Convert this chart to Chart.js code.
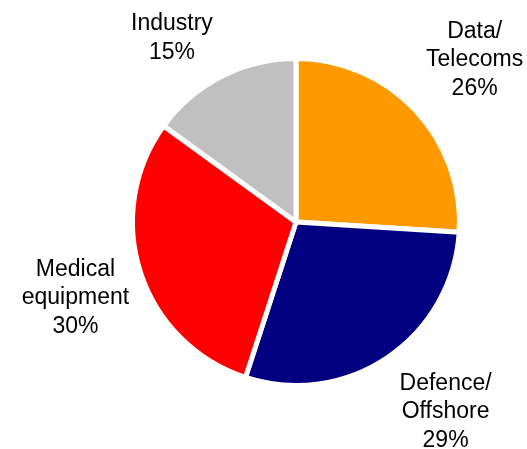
<!DOCTYPE html>
<html>
<head>
<meta charset="utf-8">
<script src="https://cdn.jsdelivr.net/npm/chart.js@4/dist/chart.umd.min.js"></script>
<style>
  html, body { margin: 0; padding: 0; background: #fff; }
  #wrap { width: 527px; height: 449px; position: relative; }
</style>
</head>
<body>
<div id="wrap"><canvas id="pie"></canvas></div>
<script>
const labels = [["Data/", "Telecoms"], ["Defence/", "Offshore"], ["Medical", "equipment"], ["Industry"]];
const shares = [26, 29, 30, 15];
const colors = ["#ff9900", "#000080", "#ff0000", "#c0c0c0"];

const font = "23px 'Liberation Sans', Arial, sans-serif";
const lineH = 28.5;
// per-label nudges: turn in degrees off the slice middle, gap in px from the rim
const labelTurn = [1, -4, -1, -7];
const labelGap = [14, 24, 13, 24];

// labels sit outside the pie, text box pushed clear of the rim
const outsideLabels = {
  id: 'outsideLabels',
  afterDatasetsDraw(chart) {
    const ctx = chart.ctx;
    const meta = chart.getDatasetMeta(0);
    ctx.save();
    ctx.font = font;
    ctx.fillStyle = '#000';
    ctx.textAlign = 'center';
    ctx.textBaseline = 'middle';
    meta.data.forEach((arc, i) => {
      const lines = labels[i].concat([shares[i] + '%']);
      const w = Math.max(...lines.map(t => ctx.measureText(t).width));
      const h = lines.length * lineH;
      const mid = (arc.startAngle + arc.endAngle) / 2 + labelTurn[i] * Math.PI / 180;
      const ux = Math.cos(mid), uy = Math.sin(mid);
      const edge = Math.min(
        Math.abs(ux) > 1e-6 ? (w / 2) / Math.abs(ux) : Infinity,
        Math.abs(uy) > 1e-6 ? (h / 2) / Math.abs(uy) : Infinity
      );
      const d = arc.outerRadius + labelGap[i] + edge;
      const cx = arc.x + ux * d;
      const cy = arc.y + uy * d;
      lines.forEach((t, k) => {
        ctx.fillText(t, cx, cy - h / 2 + lineH * (k + 0.5));
      });
    });
    ctx.restore();
  }
};

new Chart(document.getElementById('pie'), {
  type: 'pie',
  data: {
    labels: labels.map(l => l.join(' ')),
    datasets: [{
      data: shares,
      backgroundColor: colors,
      borderColor: '#ffffff',
      borderWidth: 5
    }]
  },
  options: {
    responsive: true, maintainAspectRatio: false,
    animation: false,
    layout: { padding: { top: 56, bottom: 61, left: 130, right: 65 } },
    plugins: { legend: { display: false }, tooltip: { enabled: false } }
  },
  plugins: [outsideLabels]
});
</script>
</body>
</html>
